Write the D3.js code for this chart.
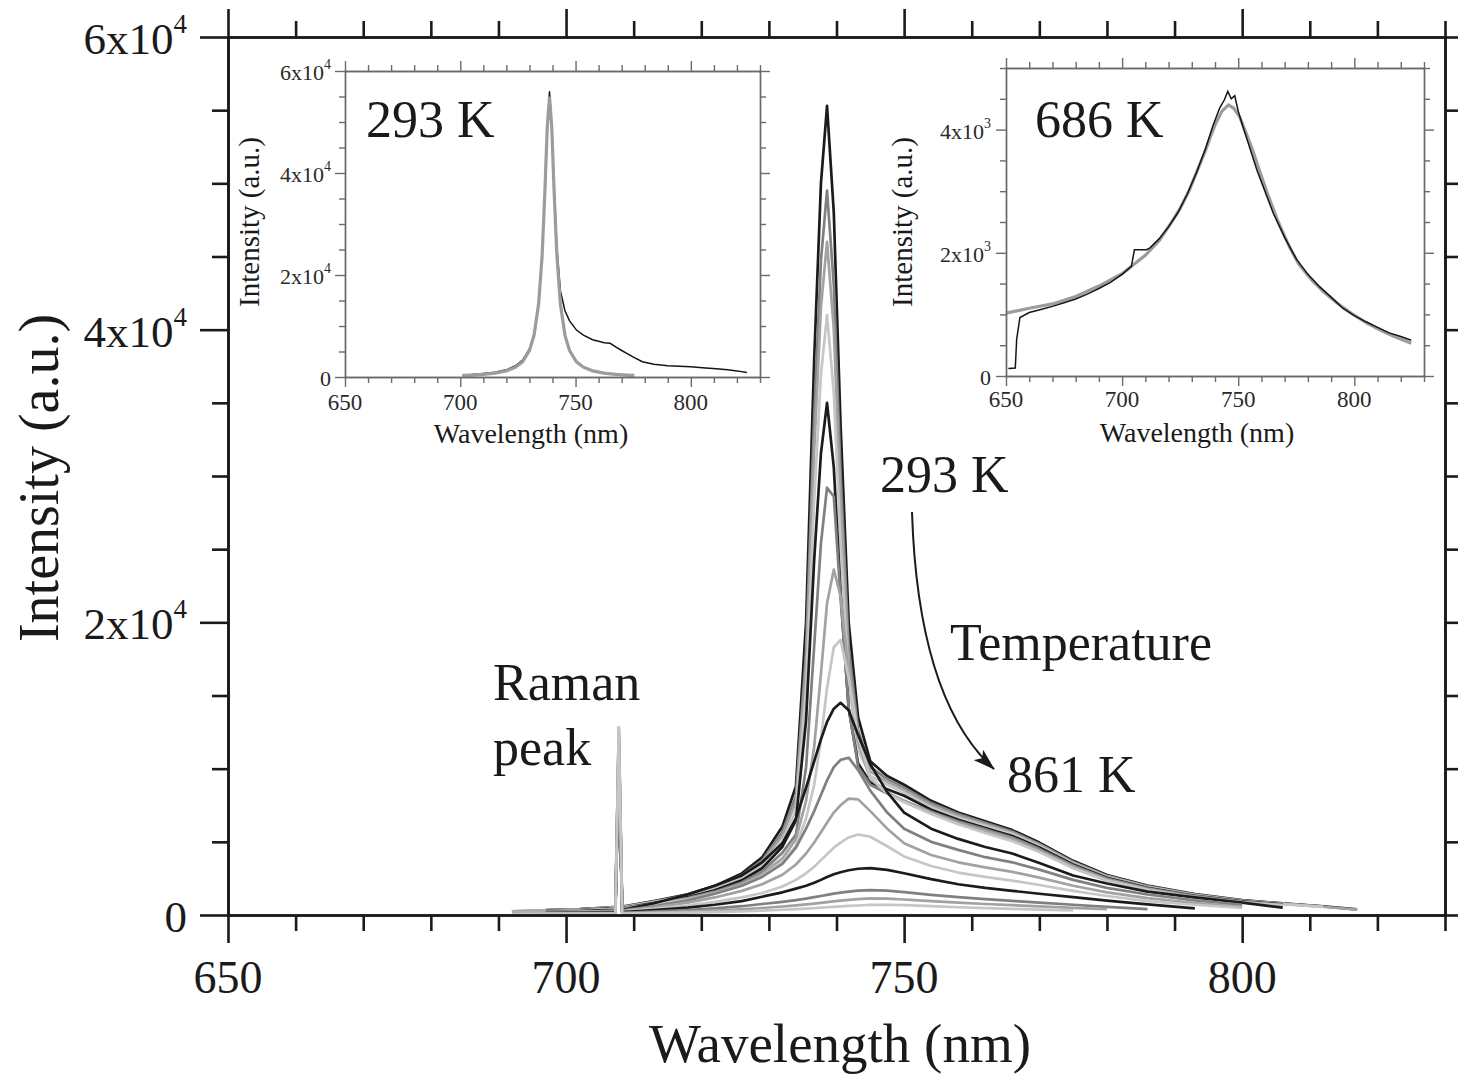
<!DOCTYPE html>
<html>
<head>
<meta charset="utf-8">
<title>Photoluminescence spectra vs temperature</title>
<script src="https://cdn.jsdelivr.net/npm/d3@7"></script>
<style>
  body { margin: 0; background: #fff; }
  text { font-family: "Liberation Serif", "Times New Roman", serif; fill: #1a1a1a; }
</style>
</head>
<body>
<svg id="chart" width="1458" height="1074"></svg>
<script>
// ---- main panel: spectra from 293 K (first) to 861 K (last), intensity in a.u. ----
const wavelengths = [692, 697, 702, 706, 707.3, 707.8, 708.3, 709, 713, 718, 722, 726, 729, 732, 734, 735.5, 736.7, 737.7, 738.6, 739.6, 740.6, 741.8, 743.2, 745, 747.5, 750, 754, 758, 762, 766, 770, 775, 780, 786, 793, 800, 806, 812, 817];

const spectrum01 = [null, 330, 400, 510, 560, 10500, 600, 625, 955, 1420, 1990, 2845, 3935, 6040, 8800, 20000, 38000, 50000, 55300, 48000, 33500, 20000, 13500, 10500, 9500, 8900, 7800, 7000, 6400, 5800, 4950, 3700, 2730, 2010, 1425, 1015, 790, 585, 380];
const spectrum02 = [250, 320, 380, 490, 540, 12800, 575, 600, 918, 1364, 1908, 2715, 3733, 5666, 8132, 18090, 34118, 44738, 49500, 43055, 30269, 18332, 12609, 10100, 9300, 8700, 7650, 6900, 6300, 5700, 4850, 3620, 2670, 1965, 1392, 991, 772, 570, null];
const spectrum03 = [250, 310, 373, 474, 522, 12000, 561, 584, 897, 1331, 1859, 2636, 3607, 5430, 7736, 16940, 31734, 41542, 46000, 40037, 28286, 17317, 12076, 9800, 9100, 8550, 7500, 6780, 6200, 5620, 4800, 3580, 2640, 1940, 1376, 980, 762, 564, 365];
const spectrum04 = [236, 295, 357, 454, 500, 12800, 537, 559, 861, 1277, 1780, 2512, 3414, 5074, 7149, 15275, 28303, 36950, 41000, 35696, 25420, 15831, 11275, 9500, 8900, 8350, 7350, 6650, 6100, 5530, 4720, 3520, 2600, 1900, 1344, 956, 744, 550, null];
const spectrum05 = [null, 281, 340, 431, 476, 10500, 510, 531, 822, 1217, 1692, 2372, 3195, 4665, 6469, 13325, 24270, 31548, 35000, 30593, 22059, 14101, 10354, 9050, 8600, 8150, 7200, 6500, 5950, 5400, 4620, 3450, 2540, 1860, 1315, 935, 725, null, null];
const spectrum06 = [212, 265, 320, 406, 448, 12000, 480, 501, 778, 1150, 1595, 2223, 2968, 4260, 5490, 10100, 18370, 25390, 29200, 28600, 21720, 14170, 10120, 8900, 8300, 7800, 7050, 6400, 5850, 5300, 4520, 3380, 2490, 1820, 1285, 905, 700, null, null];
const spectrum07 = [205, 257, 311, 394, 433, 12500, 464, 484, 751, 1106, 1530, 2117, 2792, 3866, 5176, 7800, 11500, 16500, 21300, 23600, 21800, 16500, 11800, 9300, 8400, 7800, 7000, 6300, 5750, 5200, 4400, 3300, 2420, 1770, 1250, 880, 680, null, null];
const spectrum08 = [197, 246, 299, 378, 415, 12800, 445, 464, 719, 1057, 1460, 2014, 2641, 3608, 4717, 6600, 8900, 12000, 15500, 18300, 18800, 16200, 12200, 9400, 8300, 7700, 6900, 6200, 5600, 5050, 4300, 3200, 2350, 1720, 1210, 860, 660, null, null];
const spectrum09 = [null, 200, 260, 330, 360, 10500, 390, 420, 800, 1400, 2000, 2700, 3600, 4900, 6600, 8700, 10500, 12000, 13200, 14100, 14500, 14000, 12300, 10300, 8400, 7000, 5900, 5200, 4650, 4200, 3550, 2700, 2150, 1600, 1200, 850, 500, null, null];
const spectrum10 = [180, 210, 240, 290, 310, 12000, 330, 350, 600, 1000, 1450, 2000, 2600, 3500, 4600, 5900, 7100, 8200, 9200, 10100, 10600, 10750, 9900, 8500, 7000, 5900, 5000, 4450, 3950, 3600, 3100, 2400, 1850, 1400, 1000, 700, null, null, null];
const spectrum11 = [160, 190, 220, 260, 280, 11500, 300, 320, 520, 850, 1200, 1650, 2100, 2750, 3450, 4200, 4950, 5650, 6300, 7000, 7500, 7950, 7900, 7100, 5900, 4900, 4100, 3600, 3250, 2950, 2550, 2000, 1550, 1150, 820, 560, null, null, null];
const spectrum12 = [150, 170, 190, 220, 235, 12500, 250, 265, 420, 650, 900, 1200, 1500, 1950, 2400, 2850, 3300, 3750, 4150, 4600, 4950, 5300, 5500, 5350, 4700, 4000, 3350, 2900, 2600, 2350, 2050, 1650, 1300, 950, 700, 480, null, null, null];
const spectrum13 = [null, 150, 170, 190, 200, 10500, 210, 220, 330, 500, 700, 950, 1250, 1550, 1800, 2000, 2200, 2400, 2600, 2780, 2920, 3060, 3160, 3200, 3080, 2850, 2450, 2100, 1850, 1650, 1450, 1220, 980, 720, 450, null, null, null, null];
const spectrum14 = [120, 130, 140, 150, 155, 11500, 160, 165, 230, 330, 450, 600, 750, 900, 1020, 1120, 1220, 1300, 1380, 1460, 1530, 1600, 1660, 1700, 1660, 1560, 1380, 1220, 1080, 960, 840, 700, 560, 400, null, null, null, null, null];
const spectrum15 = [100, 110, 115, 120, 125, 12000, 128, 130, 170, 230, 300, 390, 480, 580, 660, 720, 780, 830, 880, 930, 980, 1030, 1080, 1140, 1120, 1060, 950, 840, 750, 670, 590, 490, 400, null, null, null, null, null, null];
const spectrum16 = [80, 85, 90, 95, 98, 12500, 100, 102, 125, 160, 200, 250, 300, 360, 400, 440, 470, 500, 530, 560, 590, 620, 650, 690, 700, 670, 600, 530, 470, 420, 370, 310, null, null, null, null, null, null, null];

const spectra = [spectrum01, spectrum02, spectrum03, spectrum04, spectrum05, spectrum06, spectrum07, spectrum08,
                 spectrum09, spectrum10, spectrum11, spectrum12, spectrum13, spectrum14, spectrum15, spectrum16];
const curveColors = ["#1b1b1b", "#808080", "#a2a2a2", "#c6c6c6"];

const xMajorTicks = [650, 700, 750, 800];
const xMinorTicks = [660, 670, 680, 690, 710, 720, 730, 740, 760, 770, 780, 790, 810, 820, 830];
const yMajorTicks = [0, 20000, 40000, 60000];
const yMinorTicks = [5000, 10000, 15000, 25000, 30000, 35000, 45000, 50000, 55000];
const yTickLabels = [["0", ""], ["2x10", "4"], ["4x10", "4"], ["6x10", "4"]];

// ---- inset at 293 K: measured spectrum and fitted line ----
const inset293Wl = [701, 705, 710, 715, 720, 724, 727, 730, 732, 734, 735.5, 736.7, 737.7, 738.7, 739.7, 740.7, 741.9, 743.4, 745.4, 747.4, 750.4, 753.4, 757.4, 760, 762.4, 765, 767.4, 770, 772.4, 775.5, 779, 784, 790, 795, 800, 805, 811, 816, 820, 824.3];
const inset293Measured = [400, 500, 700, 950, 1400, 2200, 3300, 5500, 8500, 14500, 24000, 36000, 48000, 56000, 49000, 37500, 25500, 17000, 13000, 11000, 9200, 8200, 7300, 7000, 6700, 6600, 5900, 5200, 4600, 3800, 3000, 2500, 2200, 2100, 2000, 1800, 1600, 1400, 1200, 900];
const fit293Wl = [701, 705, 710, 715, 720, 724, 727, 730, 732, 734, 735.5, 736.7, 737.7, 738.7, 739.7, 740.7, 741.9, 743.4, 745.4, 747.4, 750.4, 753.4, 757.4, 762.4, 767.4, 772.4, 775.5];
const fit293 = [302, 377, 518, 758, 1206, 1924, 2973, 5164, 8175, 14400, 23800, 36400, 48800, 55000, 48800, 36400, 23800, 14400, 8175, 5164, 2973, 1924, 1206, 758, 518, 377, 316];
const inset293YMajor = [0, 20000, 40000, 60000];
const inset293YMinor = [5000, 10000, 15000, 25000, 30000, 35000, 45000, 50000, 55000];
const inset293YLabels = [["0", ""], ["2x10", "4"], ["4x10", "4"], ["6x10", "4"]];

// ---- inset at 686 K ----
const inset686Wl = [651, 654, 654.6, 656, 660, 665, 670, 675, 680, 685, 690, 695, 700, 704, 705.3, 710.5, 712, 716, 720, 724, 728, 732, 736, 739, 742, 744, 745.5, 747, 748.5, 750, 752, 755, 758, 761, 765, 770, 775, 780, 785, 790, 795, 800, 805, 810, 815, 820, 824.5];
const inset686Measured = [120, 130, 600, 950, 1030, 1080, 1130, 1190, 1250, 1330, 1420, 1520, 1650, 1780, 2050, 2050, 2080, 2230, 2420, 2650, 2950, 3300, 3700, 4050, 4350, 4480, 4620, 4500, 4550, 4300, 4050, 3700, 3350, 3050, 2650, 2250, 1900, 1650, 1450, 1280, 1100, 980, 880, 790, 700, 640, 580];
const fit686Wl = [650, 660, 670, 680, 690, 700, 710, 716, 721, 725, 729, 732, 735.5, 738, 740.3, 743, 745.8, 748, 750.6, 753, 756.2, 759, 762.5, 767, 772, 776, 781.6, 787, 792.7, 799, 805.4, 812, 818, 824.5];
const fit686 = [1020, 1100, 1170, 1290, 1460, 1660, 1960, 2200, 2480, 2720, 3020, 3300, 3620, 3880, 4100, 4300, 4400, 4350, 4210, 3980, 3670, 3350, 2970, 2520, 2100, 1820, 1560, 1360, 1180, 1010, 860, 730, 630, 530];
const inset686YMajor = [0, 2000, 4000];
const inset686YMinor = [500, 1000, 1500, 2500, 3000, 3500, 4500, 5000];
const inset686YLabels = [["0", ""], ["2x10", "3"], ["4x10", "3"]];

// ---------------------------------------------------------------
const svg = d3.select("#chart");

// Closed frame: ticks pointing outward on all four sides.
function drawFrame(g, xs, ys, cfg) {
  const [x0, x1] = xs.range();
  const [yb, yt] = ys.range();
  const sides = [
    { axis: d3.axisBottom(xs), tr: `translate(0,${yb})`, major: cfg.xMajor, minor: cfg.xMinor },
    { axis: d3.axisTop(xs),    tr: `translate(0,${yt})`, major: cfg.xMajor, minor: cfg.xMinor },
    { axis: d3.axisLeft(ys),   tr: `translate(${x0},0)`, major: cfg.yMajor, minor: cfg.yMinor },
    { axis: d3.axisRight(ys),  tr: `translate(${x1},0)`, major: cfg.yMajor, minor: cfg.yMinor }
  ];
  sides.forEach(s => {
    const minorAxis = s.axis.tickValues(s.minor).tickSize(cfg.minorLen).tickSizeOuter(0).tickFormat("");
    g.append("g").attr("transform", s.tr).call(minorAxis);
    const majorAxis = s.axis.tickValues(s.major).tickSize(cfg.majorLen).tickSizeOuter(0).tickFormat("");
    g.append("g").attr("transform", s.tr).call(majorAxis);
  });
  g.selectAll("path.domain").attr("stroke", cfg.color).attr("stroke-width", cfg.width).attr("stroke-linecap", "square");
  g.selectAll(".tick line").attr("stroke", cfg.color).attr("stroke-width", cfg.width);
}

function yLabels(g, ys, values, labels, cfg) {
  values.forEach((v, i) => {
    const t = g.append("text")
      .attr("x", cfg.x).attr("y", ys(v) + cfg.dy)
      .attr("text-anchor", "end")
      .attr("font-size", cfg.size)
      .style("fill", cfg.color)
      .text(labels[i][0]);
    if (labels[i][1]) {
      t.append("tspan").attr("dy", -cfg.supRaise).attr("font-size", cfg.supSize).text(labels[i][1]);
    }
  });
}

function xLabels(g, xs, values, cfg) {
  values.forEach(v => {
    g.append("text")
      .attr("x", xs(v)).attr("y", cfg.y)
      .attr("text-anchor", "middle")
      .attr("font-size", cfg.size)
      .style("fill", cfg.color)
      .text(v);
  });
}

// ---------------- main panel ----------------
const x = d3.scaleLinear().domain([650, 830]).range([228, 1445]);
const y = d3.scaleLinear().domain([0, 60000]).range([915, 37]);

const main = svg.append("g");
const line = d3.line()
  .defined(d => d[1] != null)
  .x(d => x(d[0]))
  .y(d => y(d[1]));

spectra.forEach((vals, i) => {
  main.append("path")
    .datum(wavelengths.map((w, j) => [w, vals[j]]))
    .attr("d", line)
    .attr("fill", "none")
    .attr("stroke", curveColors[i % 4])
    .attr("stroke-width", 2.7)
    .attr("stroke-linejoin", "round");
});

drawFrame(main, x, y, {
  xMajor: xMajorTicks, xMinor: xMinorTicks, yMajor: yMajorTicks, yMinor: yMinorTicks,
  majorLen: 28, minorLen: 16, color: "#1a1a1a", width: 2.6
});
xLabels(main, x, xMajorTicks, { y: 993, size: 46, color: "#1a1a1a" });
yLabels(main, y, yMajorTicks, yTickLabels, { x: 187, dy: 17, size: 45, supSize: 27, supRaise: 21, color: "#1a1a1a" });

main.append("text")
  .attr("x", 840).attr("y", 1062)
  .attr("text-anchor", "middle").attr("font-size", 55)
  .text("Wavelength (nm)");
main.append("text")
  .attr("transform", "translate(58,478) rotate(-90)")
  .attr("text-anchor", "middle").attr("font-size", 56)
  .text("Intensity (a.u.)");

// annotations
const note = (tx, ty, s) => main.append("text").attr("x", tx).attr("y", ty).attr("font-size", 52).text(s);
note(493, 700, "Raman");
note(493, 765, "peak");
note(880, 492, "293 K");
note(950, 660, "Temperature");
note(1007, 792, "861 K");

const defs = svg.append("defs");
defs.append("marker")
  .attr("id", "head")
  .attr("viewBox", "0 0 22 14")
  .attr("refX", 21).attr("refY", 7)
  .attr("markerWidth", 22).attr("markerHeight", 14)
  .attr("markerUnits", "userSpaceOnUse")
  .attr("orient", "auto")
  .append("path")
  .attr("d", "M0,0 L22,7 L0,14 L5,7 Z")
  .attr("fill", "#1a1a1a");

const arrowPath = d3.path();
arrowPath.moveTo(912, 512);
arrowPath.quadraticCurveTo(918, 700, 994, 769);
main.append("path")
  .attr("d", arrowPath.toString())
  .attr("fill", "none")
  .attr("stroke", "#1a1a1a")
  .attr("stroke-width", 2)
  .attr("marker-end", "url(#head)");

// ---------------- inset: 293 K ----------------
const insetFrame = { majorLen: 10, minorLen: 6, color: "#6a6a6a", width: 1.4 };
{
  const xi = d3.scaleLinear().domain([650, 830]).range([345, 760]);
  const yi = d3.scaleLinear().domain([0, 60000]).range([377, 71]);
  const g = svg.append("g");
  g.append("rect").attr("x", 345).attr("y", 71).attr("width", 415).attr("height", 306).attr("fill", "#fff");
  const li = d3.line().x(d => xi(d[0])).y(d => yi(d[1]));
  g.append("path").datum(inset293Wl.map((w, j) => [w, inset293Measured[j]]))
    .attr("d", li).attr("fill", "none").attr("stroke", "#151515").attr("stroke-width", 1.5);
  g.append("path").datum(fit293Wl.map((w, j) => [w, fit293[j]]))
    .attr("d", li).attr("fill", "none").attr("stroke", "#9c9c9c").attr("stroke-width", 3.2);
  drawFrame(g, xi, yi, Object.assign({ xMajor: xMajorTicks, xMinor: xMinorTicks, yMajor: inset293YMajor, yMinor: inset293YMinor }, insetFrame));
  xLabels(g, xi, xMajorTicks, { y: 410, size: 23, color: "#2a2a2a" });
  yLabels(g, yi, inset293YMajor, inset293YLabels, { x: 331, dy: 9, size: 22, supSize: 14, supRaise: 11, color: "#2a2a2a" });
  g.append("text").attr("x", 531).attr("y", 443).attr("text-anchor", "middle").attr("font-size", 28).text("Wavelength (nm)");
  g.append("text").attr("transform", "translate(259,222) rotate(-90)").attr("text-anchor", "middle").attr("font-size", 29).text("Intensity (a.u.)");
  g.append("text").attr("x", 366).attr("y", 137).attr("font-size", 52).text("293 K");
}

// ---------------- inset: 686 K ----------------
{
  const xi = d3.scaleLinear().domain([650, 830]).range([1006, 1424]);
  const yi = d3.scaleLinear().domain([0, 5000]).range([376, 68]);
  const g = svg.append("g");
  g.append("rect").attr("x", 1006).attr("y", 68).attr("width", 418).attr("height", 308).attr("fill", "#fff");
  const li = d3.line().x(d => xi(d[0])).y(d => yi(d[1]));
  g.append("path").datum(fit686Wl.map((w, j) => [w, fit686[j]]))
    .attr("d", li).attr("fill", "none").attr("stroke", "#9c9c9c").attr("stroke-width", 3.2);
  g.append("path").datum(inset686Wl.map((w, j) => [w, inset686Measured[j]]))
    .attr("d", li).attr("fill", "none").attr("stroke", "#151515").attr("stroke-width", 1.5);
  drawFrame(g, xi, yi, Object.assign({ xMajor: xMajorTicks, xMinor: xMinorTicks, yMajor: inset686YMajor, yMinor: inset686YMinor }, insetFrame));
  xLabels(g, xi, xMajorTicks, { y: 407, size: 23, color: "#2a2a2a" });
  yLabels(g, yi, inset686YMajor, inset686YLabels, { x: 991, dy: 9, size: 22, supSize: 14, supRaise: 11, color: "#2a2a2a" });
  g.append("text").attr("x", 1197).attr("y", 442).attr("text-anchor", "middle").attr("font-size", 28).text("Wavelength (nm)");
  g.append("text").attr("transform", "translate(912,222) rotate(-90)").attr("text-anchor", "middle").attr("font-size", 29).text("Intensity (a.u.)");
  g.append("text").attr("x", 1035).attr("y", 137).attr("font-size", 52).text("686 K");
}
</script>
</body>
</html>
